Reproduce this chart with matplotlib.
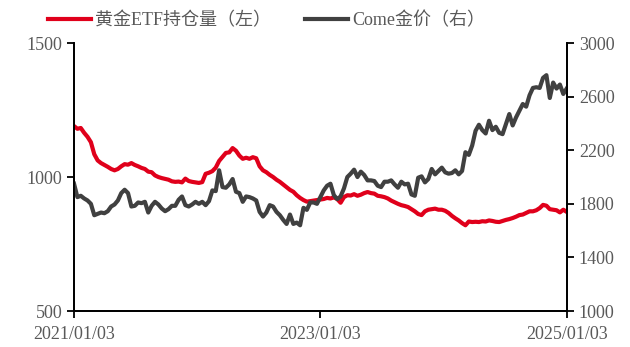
import numpy as np
import pandas as pd
import matplotlib
matplotlib.use('Agg')
import matplotlib.pyplot as plt
import matplotlib.dates as mdates

plt.rcParams['font.family'] = ['Liberation Serif', 'Noto Sans CJK SC']

# sampling dates (every 10 days)
dates = pd.date_range('2021-01-03', '2025-01-03', freq='10D')

# gold ETF holdings, tonnes (left axis)
etf_holdings = [
    1190, 1180, 1183, 1165, 1150, 1130, 1085, 1062, 1052, 1045,
    1038, 1030, 1025, 1030, 1040, 1048, 1046, 1052, 1045, 1040,
    1034, 1030, 1020, 1018, 1006, 1000, 996, 993, 990, 984,
    982, 983, 980, 994, 985, 982, 980, 978, 981, 1012,
    1016, 1022, 1035, 1060, 1075, 1090, 1092, 1108, 1098, 1080,
    1068, 1072, 1068, 1074, 1070, 1040, 1025, 1018, 1008, 1000,
    990, 982, 972, 962, 952, 945, 932, 922, 914, 908,
    910, 912, 914, 916, 918, 922, 920, 924, 918, 904,
    925, 932, 931, 936, 930, 934, 940, 944, 940, 938,
    930, 928, 925, 920, 912, 906, 900, 895, 892, 888,
    880, 872, 862, 858, 872, 878, 880, 882, 878, 878,
    874, 866, 855, 846, 838, 828, 820, 834, 832, 833,
    832, 835, 834, 838, 836, 833, 832, 836, 840, 843,
    847, 852, 858, 860, 866, 872, 872, 876, 884, 896,
    893, 880, 878, 876, 868, 878, 870,
]

# COMEX gold price, USD/oz (right axis)
gold_price = [
    1950, 1850, 1860, 1840, 1825, 1800, 1715, 1725, 1735, 1730,
    1745, 1780, 1795, 1825, 1880, 1905, 1880, 1780, 1785, 1810,
    1805, 1815, 1735, 1785, 1815, 1795, 1765, 1745, 1760, 1785,
    1785, 1830, 1855, 1790, 1780, 1795, 1815, 1800, 1815, 1790,
    1820, 1900, 1895, 2050, 1925, 1920, 1945, 1985, 1890, 1880,
    1815, 1855, 1850, 1840, 1825, 1740, 1705, 1735, 1790, 1780,
    1740, 1715, 1680, 1650, 1720, 1650, 1660, 1640, 1770, 1755,
    1810, 1810, 1800, 1850, 1900, 1935, 1950, 1865, 1835, 1855,
    1915, 2000, 2025, 2055, 2000, 2040, 2015, 1975, 1975, 1970,
    1935, 1925, 1965, 1965, 1975, 1945, 1920, 1965, 1945, 1950,
    1870, 1860, 1995, 2005, 1960, 1985, 2060, 2020, 2045, 2070,
    2035, 2025, 2030, 2050, 2020, 2045, 2185, 2165, 2235, 2345,
    2390, 2350, 2325, 2420, 2350, 2375, 2330, 2320, 2395, 2470,
    2385, 2445, 2495, 2545, 2525, 2610, 2665, 2670, 2665, 2740,
    2760, 2590, 2705, 2660, 2690, 2620, 2660,
]

label_etf = '黄金ETF持仓量（左）'
label_gold = 'Come金价（右）'
x_ticks = ['2021-01-03', '2023-01-03', '2025-01-03']

red = '#E0001B'
dark = '#404040'
txt = '#595959'

fig = plt.figure(figsize=(6.3, 3.47), dpi=100)
ax = fig.add_axes([0.1175, 0.1037, 0.7825, 0.7723])
ax2 = ax.twinx()

l1, = ax.plot(dates, etf_holdings, color=red, lw=3, label=label_etf)
l2, = ax2.plot(dates, gold_price, color=dark, lw=3, label=label_gold)

ax.set_ylim(500, 1500)
ax.set_yticks([500, 1000, 1500])
ax2.set_ylim(1000, 3000)
ax2.set_yticks([1000, 1400, 1800, 2200, 2600, 3000])

tick_dates = pd.to_datetime(x_ticks)
ax.set_xlim(tick_dates[0], tick_dates[-1])
ax.set_xticks(tick_dates)
ax.xaxis.set_major_formatter(mdates.DateFormatter('%Y/%m/%d'))

for a in (ax, ax2):
    a.spines['top'].set_visible(False)
    for s in ('left', 'right', 'bottom'):
        a.spines[s].set_color('black')
        a.spines[s].set_linewidth(1.3)
    a.tick_params(labelsize=13, labelcolor=txt, length=5, width=1.3,
                  direction='out')
ax.tick_params(axis='x', pad=6)

fig.legend(handles=[l1, l2], loc='upper left', bbox_to_anchor=(0.076, 0.965),
           ncol=2, frameon=False, fontsize=13, labelcolor=txt,
           borderpad=0, borderaxespad=0,
           handlelength=2.4, handletextpad=0.2, columnspacing=1.9)

fig.savefig('out.png', dpi=100)
